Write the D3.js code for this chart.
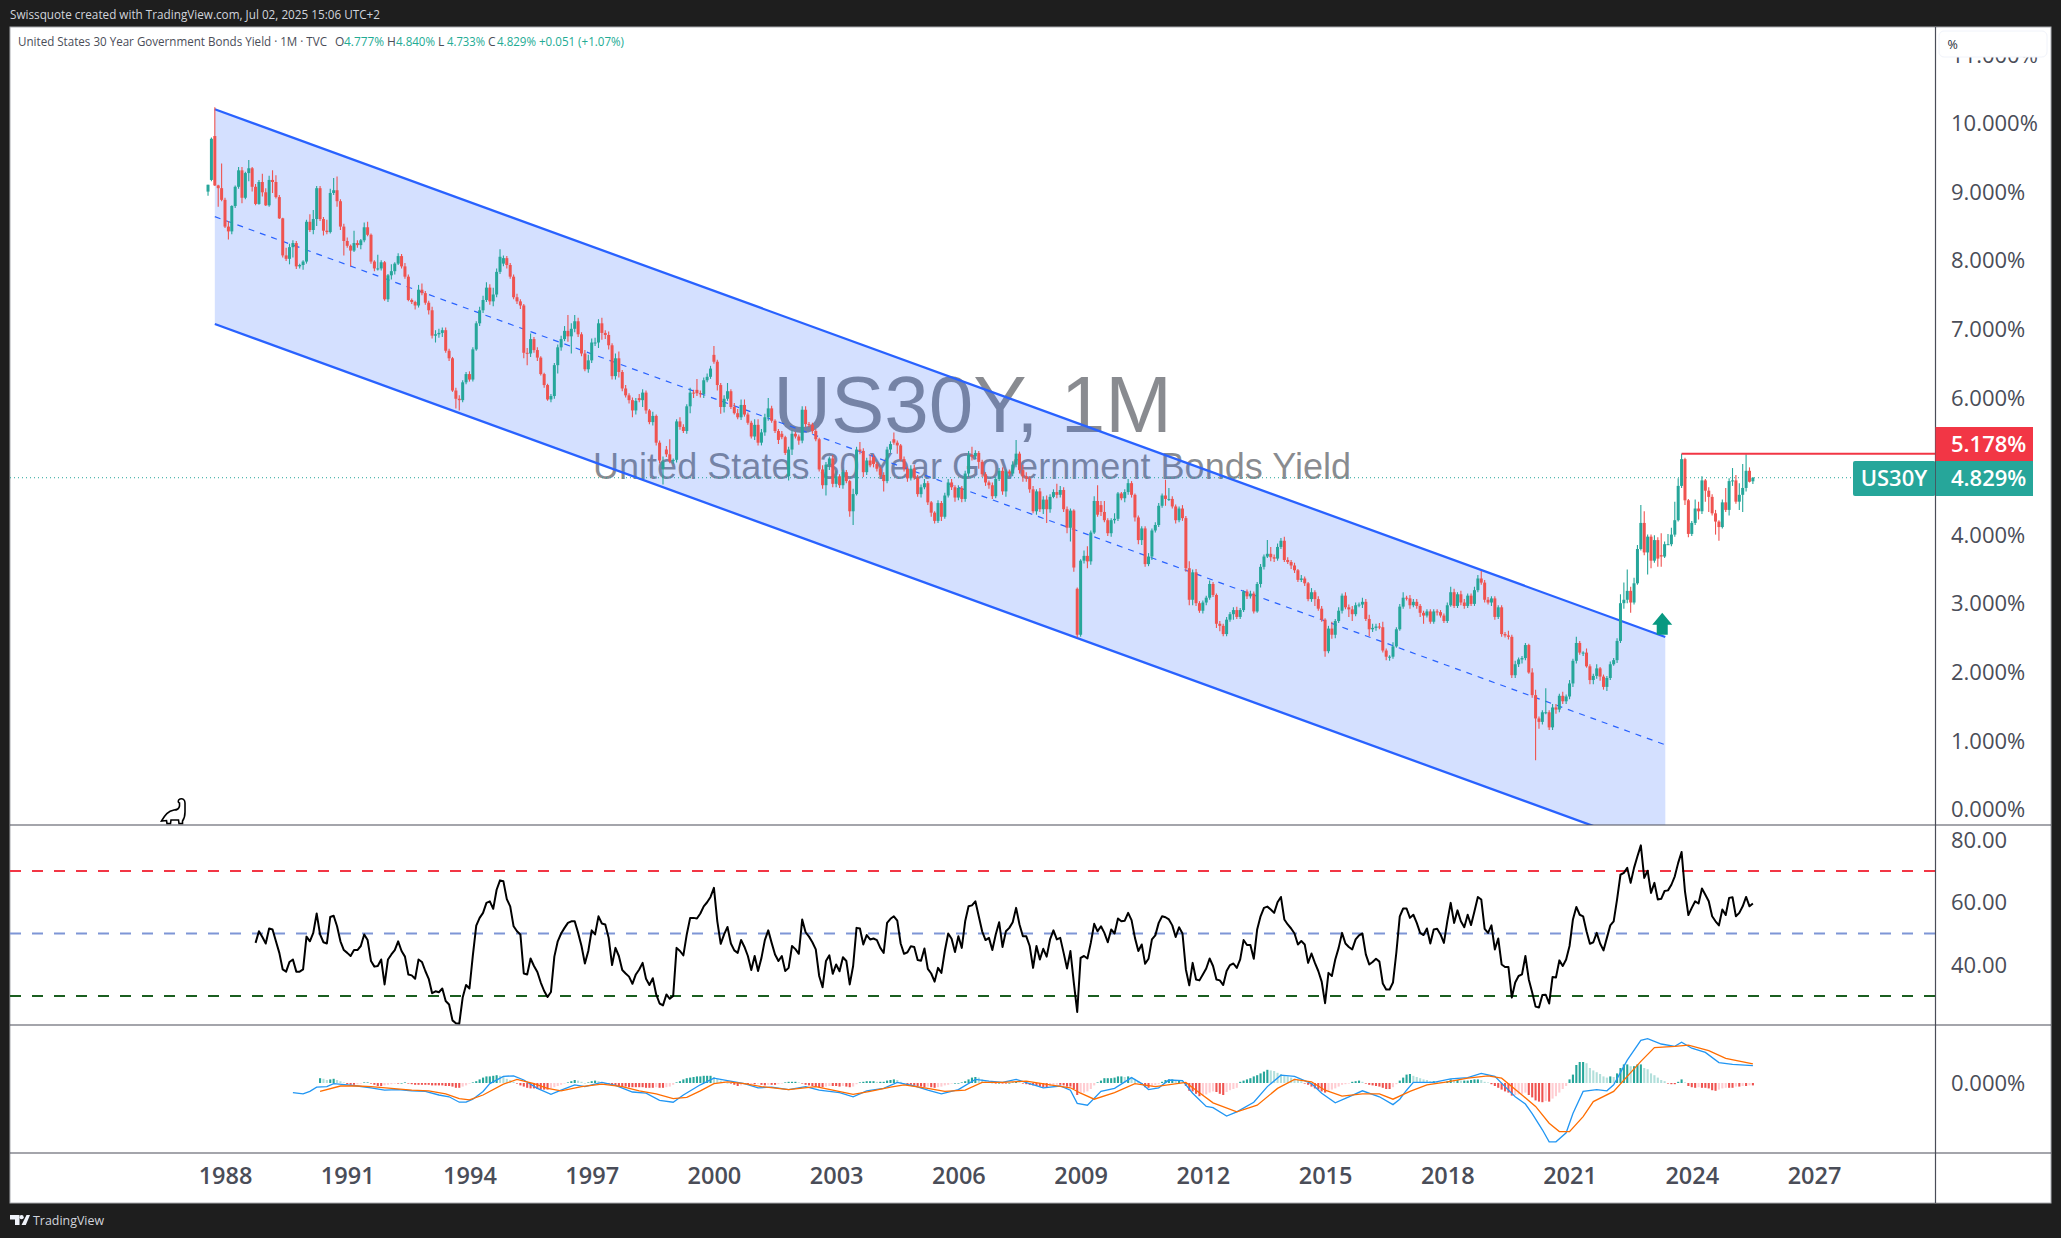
<!DOCTYPE html>
<html><head><meta charset="utf-8"><script src="https://cdn.jsdelivr.net/npm/d3@7"></script>
<style>html,body{margin:0;padding:0;background:#1e1e1e;overflow:hidden}svg{display:block}text{font-family:"Open Sans",sans-serif}</style></head>
<body><svg id="c" width="2061" height="1238"></svg>
<script>
// Month numbers count from January 1988 = 0.
const firstBarMonth = -5; // Aug 1987
const closes = [
9.10,9.77,9.09,9.05,8.88,
8.49,8.42,8.79,9.07,9.31,8.91,9.27,9.34,9.07,8.82,9.14,8.99,
8.80,9.17,9.14,8.92,8.61,8.07,8.02,8.19,8.25,7.91,7.93,7.98,
8.56,8.44,8.60,9.05,8.60,8.43,8.41,8.98,9.02,8.86,8.49,8.28,
8.21,8.14,8.25,8.22,8.29,8.48,8.37,7.98,7.88,7.88,7.97,7.43,
7.78,7.84,7.95,8.06,7.91,7.76,7.42,7.39,7.34,7.57,7.52,7.38,
7.27,6.90,6.92,6.94,6.98,6.68,6.57,6.10,5.98,5.96,6.22,6.34,
6.26,6.70,7.08,7.27,7.42,7.60,7.40,7.50,7.83,8.05,8.03,7.93,
7.76,7.46,7.40,7.34,6.65,6.64,6.85,6.69,6.58,6.34,6.18,5.97,
6.02,6.47,6.73,6.85,6.97,6.89,7.00,7.11,6.92,6.64,6.41,6.54,
6.80,6.80,7.08,6.94,6.91,6.76,6.31,6.57,6.37,6.13,6.03,5.96,
5.81,5.95,5.96,6.07,5.81,5.64,5.73,5.34,5.08,5.06,5.17,5.07,
5.09,5.65,5.57,5.51,5.87,6.07,6.06,6.06,6.05,6.25,6.30,6.42,
6.52,6.18,5.86,5.98,6.09,5.86,5.77,5.71,5.89,5.75,5.63,5.43,
5.60,5.34,5.49,5.71,5.84,5.66,5.51,5.38,5.42,5.19,5.24,5.47,
5.43,5.37,5.82,5.61,5.60,5.51,5.39,4.95,4.72,5.02,5.11,4.74,
4.85,4.72,4.91,4.78,4.34,4.59,5.24,5.22,4.91,5.08,5.01,5.03,
4.96,4.87,4.78,5.24,5.32,5.34,5.30,5.10,4.96,4.82,4.96,4.83,
4.59,4.69,4.75,4.47,4.32,4.20,4.46,4.26,4.57,4.76,4.69,4.54,
4.68,4.52,4.89,5.16,5.14,5.19,5.06,4.88,4.76,4.72,4.56,4.81,
4.93,4.63,4.92,4.89,5.02,5.18,4.94,4.85,4.82,4.66,4.34,4.63,
4.37,4.51,4.37,4.55,4.62,4.58,4.65,4.37,4.10,4.35,3.52,2.54,
3.62,3.69,3.61,4.03,4.49,4.29,4.33,4.21,4.02,4.21,4.23,4.60,
4.53,4.62,4.75,4.58,4.25,3.92,4.09,3.57,3.68,4.06,4.14,4.42,
4.57,4.52,4.52,4.41,4.21,4.38,4.24,3.51,3.05,3.45,3.00,2.89,
3.01,3.08,3.28,3.12,2.70,2.67,2.55,2.76,2.84,2.90,2.80,2.90,
3.17,3.10,3.14,2.88,3.28,3.53,3.68,3.72,3.67,3.65,3.82,3.91,
3.63,3.60,3.55,3.48,3.34,3.36,3.29,3.06,3.16,3.06,2.92,2.76,
2.30,2.63,2.54,2.74,2.89,3.11,2.94,2.91,2.84,2.97,2.98,3.02,
2.77,2.62,2.64,2.66,2.65,2.31,2.22,2.22,2.37,2.62,2.95,3.08,
3.07,2.97,3.02,2.96,2.86,2.82,2.88,2.73,2.88,2.87,2.82,2.74,
2.97,3.16,2.96,3.13,3.01,2.96,3.11,2.99,3.19,3.36,3.30,3.05,
3.01,3.07,2.80,2.94,2.55,2.53,2.51,1.95,2.11,2.18,2.20,2.39,
1.99,1.66,1.32,1.27,1.41,1.41,1.19,1.48,1.45,1.65,1.57,1.64,
1.83,2.16,2.42,2.28,2.28,2.08,1.88,1.94,2.05,1.93,1.78,1.91,
2.11,2.17,2.45,3.00,3.05,3.18,3.01,3.29,3.79,4.17,3.74,3.97,
3.62,3.92,3.65,3.68,3.86,3.86,4.00,4.21,4.71,5.10,4.50,4.01,
4.17,4.38,4.34,4.79,4.64,4.55,4.31,4.19,4.11,4.47,4.36,4.78,
4.79,4.48,4.58,4.68,4.93,4.77,4.829];
// Opens that visibly differ from the previous close
const gapOpenMonths = [-5,-3,-4,82,122,129,130,139,144,164,166,191,197,251,258,423,450];
const gapOpenValues = [9.0,9.81,9.17,7.95,5.99,4.96,5.24,6.11,6.62,5.47,4.85,5.13,5.39,3.21,4.43,3.70,4.777];
// Upper wick above the body, hundredths of a point
const upperWicks = [
0,2,42,1,36,
3,8,1,2,5,5,2,12,2,4,3,12,
6,6,14,10,3,1,11,5,4,3,2,2,
3,11,13,3,3,3,16,6,18,20,3,4,
5,2,18,4,2,7,8,2,2,20,3,2,
2,10,2,4,3,5,3,2,2,7,9,3,
3,5,6,6,4,4,3,2,4,5,3,3,
4,3,3,5,6,8,5,10,5,11,4,3,
3,3,5,3,2,7,8,3,4,2,2,2,
3,3,4,5,7,23,8,9,5,3,5,8,
6,7,6,8,4,5,3,7,10,3,5,3,
4,4,6,5,3,2,6,2,3,8,5,22,
2,3,6,4,3,7,4,16,4,4,5,4,
13,3,3,5,12,3,6,6,8,8,3,3,
8,8,5,5,15,4,2,3,4,2,4,5,
3,3,5,5,3,3,3,2,6,4,3,5,
8,3,4,3,2,8,4,11,4,4,8,4,
3,3,4,4,4,10,3,2,4,3,5,6,
4,4,6,3,2,2,4,3,4,5,5,3,
4,3,4,6,12,4,3,3,3,3,4,3,
4,5,3,3,5,20,3,8,6,3,5,3,
5,5,6,4,4,12,6,4,4,3,2,2,
2,8,14,3,7,23,6,16,3,3,8,2,
2,4,6,3,2,3,3,3,5,3,4,4,
3,23,16,4,3,3,5,3,10,4,5,3,
3,3,5,3,2,4,3,4,3,4,5,3,
2,3,4,3,3,4,3,20,10,4,5,4,
6,4,3,4,2,5,3,2,6,3,4,4,
2,4,10,3,5,3,5,4,5,4,3,6,
4,6,6,4,5,8,3,2,6,3,4,8,
3,5,4,4,3,3,3,3,3,3,3,3,
4,8,5,3,5,5,3,3,5,5,11,4,
4,3,3,3,3,3,7,3,5,3,3,3,
2,6,8,3,3,35,3,5,5,3,6,3,
5,3,9,3,2,6,3,3,6,2,3,3,
4,3,4,13,25,31,6,8,6,26,17,3,
3,7,4,32,4,15,10,27,11,8,2,2,
3,13,10,6,2,5,4,5,2,4,21,4,
18,8,17,35,24,5,1];
// Lower wick below the body, hundredths of a point
const lowerWicks = [
6,2,1,27,2,
2,12,4,3,3,8,2,12,7,2,1,6,
1,2,16,2,1,3,3,8,15,4,3,7,
3,3,6,10,3,7,3,2,3,8,5,21,
3,23,2,4,6,3,2,3,4,3,3,2,
4,6,5,2,3,3,2,3,6,3,3,3,
6,4,10,5,6,3,4,2,14,15,3,3,
3,3,2,4,4,3,5,7,4,3,4,5,
3,3,4,5,8,17,5,4,5,2,4,2,
4,4,12,5,3,8,25,5,4,4,3,5,
4,5,8,10,6,6,5,5,8,4,3,5,
10,6,3,10,5,3,5,4,4,23,4,3,
4,4,4,3,4,10,7,4,5,6,3,3,
3,8,10,8,3,3,2,3,4,3,3,3,
5,4,4,5,5,3,3,6,3,3,6,8,
3,6,4,4,3,4,3,3,5,15,8,5,
5,4,5,3,8,20,2,5,7,4,3,5,
4,3,15,3,5,3,12,3,4,5,3,3,
4,5,3,4,6,4,3,6,3,3,4,6,
4,5,4,5,6,4,10,4,5,5,4,3,
3,5,8,4,4,4,5,8,5,5,3,5,
4,7,20,5,2,5,4,4,8,20,6,4,
3,4,10,5,2,3,6,3,4,5,5,3,
3,6,4,4,6,6,7,4,3,5,3,3,
3,10,3,3,5,3,4,5,8,8,4,3,
4,4,3,3,6,8,3,3,3,8,3,3,
3,4,3,3,2,5,4,2,6,5,3,3,
3,3,5,4,3,3,4,3,4,10,3,3,
8,3,6,5,3,4,3,11,10,3,3,5,
3,10,4,4,3,3,5,6,3,2,2,3,
3,5,3,4,6,12,3,3,3,5,3,3,
3,2,3,3,4,4,3,3,3,3,3,4,
3,5,4,3,4,3,4,4,4,4,6,3,
2,4,61,10,4,3,4,4,6,4,4,4,
4,5,4,3,5,2,6,6,4,6,4,6,
3,2,4,3,8,5,15,3,2,2,4,32,
11,3,12,15,2,1,3,3,2,3,7,5,
3,3,12,4,16,22,3,19,20,2,3,8,
7,3,12,25,5,1,4];
const rsiFirstMonth = 9; // Oct 1988
const rsiValues = [
47,50.7,48.9,
46.8,51.6,51.3,47.5,43.8,38.5,37.8,40.9,41.7,37.8,37.8,38.5,
49,47.5,50.2,56.4,49.7,47.2,46.8,55.3,55.7,52.3,47.5,44.7,
43.8,42.8,44.7,44.7,46,49.7,47.9,41.2,39.4,39.6,41.7,33.7,
41.7,43.3,44.7,47.5,44.4,42.6,36.9,36.6,35.5,41.7,40.9,38,
35.5,30.9,31.5,31.2,32.4,28.4,27.3,22.2,21.3,21.2,29.5,33.5,
32.4,43,52.5,55,56.6,59.8,60.3,57.9,64,67,66.7,61,
58.7,52.3,50.7,49.7,37.2,36.9,42,39.6,37.7,34.3,31.6,29.7,
31.3,42.6,47.5,50,51.8,53.4,53.9,53.9,50.2,46,40.4,44.4,
51,49.7,55.5,53.2,52.9,48.6,39.9,45.4,42.8,38.3,37.2,36.2,
33.9,36.9,38.5,40.6,35.5,33.5,35.7,30.5,27.6,27,30.5,29.1,
30,45.4,44.4,43,49.7,55,55,54.8,56.4,58.7,60,61.7,
64.6,53.9,46.7,49.7,52.1,46.8,44.6,43.8,47.9,45.7,42.8,38.3,
42.8,38,42.2,47.9,51,47,43.3,41.2,42.8,38,39,46,
45,43.5,54.5,50.4,49,47.2,44.9,36.4,32.8,41.2,43,37.1,
40.1,37.9,42.4,41.2,33.7,39.6,51.8,51.6,46.5,49.5,48.1,48.4,
47.9,45.4,43.8,53.4,54.7,55.5,54.1,46.8,43.5,44,45.9,45.7,
41.5,41.3,45.2,38.7,37.2,34.6,39,37.4,44.4,50,48.3,44.1,
49.1,45.4,53.9,58.7,59,60.3,55.5,50.7,47.9,48.6,44.7,49.7,
53.6,45.7,50.7,51.8,53.6,58.2,52.9,49.1,49.1,46,39,46,
41.7,45.1,42.6,48.1,51,48.1,48.6,43.8,38.8,44.4,34.3,24.9,
42.2,42.8,42,47,53.1,50.7,52.3,50.2,47.2,51.3,50,54.8,
53.9,54.1,56.6,54.3,48.6,44.4,46.5,40.3,41.9,48.1,49.4,53.4,
55.5,55.2,54.5,52.6,48.9,52,50,38.5,33.4,40.6,35.3,35,
36.9,38.8,42,39.6,35.3,35,33.5,38,39.9,40.4,39,41.7,
47.9,46.3,46.3,41.9,51.3,55.5,58.2,58.6,57.7,56.6,60,61.7,
54.5,52.9,51.6,50,46.5,47.6,46.5,40.6,43.6,40.6,38,34.6,
27.7,37.4,36.4,41.7,45.4,50.2,46.8,45.7,44.9,48.1,49.4,50,
43.3,40.1,40.9,41.9,41,34,32.1,32.1,34.3,44,55.5,58,
58,55,56,53.4,50.2,49.5,51.6,46.8,51.3,51.5,49.7,47,
53.9,59.8,53.4,57.4,53.9,52,56,52.7,57.1,61.7,60.9,51.5,
50.2,52.6,44.9,48.4,40.1,39.3,39.3,29.5,34.3,36.4,36.9,42.8,
35.3,31.1,26.6,26.3,30.3,30.4,27.6,36.1,35.9,41.4,39.6,41.7,
46,54.5,58.5,56,55.5,50.7,46.7,47.2,50.2,46.8,44.6,48.6,
52.6,53.9,60.9,68.8,69.4,71,66.2,71,74.7,78.2,67.8,70.1,
63,66.2,60.9,61.1,63.6,63.8,65.6,68.3,72.6,76.1,63.5,55.9,
58.2,60.3,59.6,64.4,62.4,60.3,55.5,53.9,52.6,57.7,55.9,61.4,
61.6,55.5,56.6,58.7,61.7,58.7,59.6];
// MACD line turning points: month, then value in hundredths of a point
const macdMonths = [20,23,25,27,30,32,36,39,43,47,51,55,59,63,66,69,71,73,76,78,82,85,88,92,96,99,103,106,111,115,120,124,128,132,135,140,144,148,153,157,161,166,171,175,181,185,189,194,198,203,207,211,216,221,225,229,233,237,241,246,249,251,254,258,262,267,270,272,275,278,282,285,289,291,295,298,303,307,311,315,320,323,327,331,335,340,344,346,348,350,356,361,366,370,374,377,380,383,385,388,390,392,395,397,400,404,407,409,413,417,419,423,427,429,432,436,440,444,450];
const macdValues = [-16,-18,-14,-7,-6,-1,-3,-5,-8,-12,-11,-13,-14,-20,-23,-32,-32,-27,-14,-1,11,12,5,-9,-19,-12,-3,-6,1,-4,-15,-17,-29,-32,-20,-3,8,4,-1,-8,-7,-11,-6,-12,-16,-23,-13,-9,1,-5,-12,-18,-11,6,3,1,6,-1,-8,-5,-12,-34,-37,-14,-9,9,-1,-11,-8,5,4,-17,-39,-41,-55,-48,-32,-6,13,11,-1,-17,-33,-23,-13,-23,-36,-27,-12,1,1,7,9,16,11,-6,-23,-35,-51,-78,-98,-98,-83,-51,-14,-11,-13,-3,38,71,74,65,61,68,58,51,34,31,29];
// Signal line turning points
const signalMonths = [28,34,39,43,49,55,60,65,69,72,76,82,86,91,95,99,105,111,117,122,127,132,136,140,144,148,153,158,166,174,179,185,190,196,200,207,212,218,223,229,236,243,249,252,256,262,268,274,283,286,291,298,304,310,315,320,324,329,335,340,344,349,354,360,366,372,376,382,386,390,393,396,400,403,409,413,417,421,427,431,437,442,450];
const signalValues = [-14,-5,-5,-6,-9,-12,-13,-18,-26,-28,-20,-2,6,-1,-9,-13,-6,-2,-6,-13,-18,-26,-24,-13,-1,2,-1,-6,-11,-6,-12,-19,-14,-7,-3,-9,-14,-12,1,1,3,-3,-8,-17,-27,-16,-1,-6,1,-12,-33,-48,-37,-9,6,2,-12,-22,-18,-18,-27,-14,-3,2,8,12,8,-20,-39,-67,-81,-81,-56,-31,-14,11,36,59,61,63,54,41,32];
const histFirstMonth = 28; // May 1990
const histValues = [
8,7,5,6,7,5,3,1,
-2,-3,-3,-2,-1,1,1,-1,-3,-5,-5,-4,
-3,-2,-1,-1,0,1,-1,-2,-3,-3,-3,-3,
-3,-4,-4,-4,-4,-5,-5,-6,-8,-8,-6,-4,
-1,1,3,6,9,11,11,12,13,12,10,7,
5,2,-1,-4,-6,-8,-9,-9,-10,-11,-11,-11,
-9,-7,-5,-3,-1,1,3,5,4,2,0,1,
3,4,3,1,-1,-2,-4,-5,-6,-6,-6,-7,
-7,-7,-7,-7,-8,-8,-8,-7,-8,-8,-7,-6,
-3,1,3,6,8,9,10,11,11,12,12,12,
10,7,4,2,0,-1,-3,-5,-4,-3,-3,-2,
-2,-1,-3,-4,-3,-3,-3,-2,-1,1,2,2,
2,1,-1,-3,-4,-5,-6,-7,-7,-6,-5,-5,
-5,-6,-5,-6,-7,-6,-2,1,2,3,3,3,
2,2,2,4,5,6,5,2,0,-2,-3,-4,
-5,-6,-7,-6,-7,-8,-7,-6,-4,-3,-1,0,
0,1,3,6,9,10,9,6,3,2,0,-1,
0,-1,-1,0,1,2,1,-1,-2,-3,-4,-5,
-6,-7,-7,-5,-4,-3,-3,-4,-6,-6,-10,-20,
-18,-16,-14,-10,-4,1,4,8,8,8,9,11,
11,10,11,10,7,3,-2,-7,-8,-6,-4,-2,
2,5,6,6,5,5,3,-5,-13,-14,-18,-22,
-20,-19,-16,-14,-15,-18,-20,-15,-12,-10,-8,2,
4,6,8,11,13,16,19,22,21,20,17,15,
13,11,9,7,5,3,-1,-3,-6,-9,-11,-14,
-16,-13,-11,-9,-6,-3,-2,-1,2,3,4,2,
-1,-3,-4,-5,-6,-8,-10,-10,-7,-2,4,9,
14,15,12,10,8,6,5,3,3,2,1,1,
3,6,5,5,4,4,4,5,6,6,5,2,
1,-2,-5,-8,-11,-14,-16,-21,-20,-19,-18,-16,
-20,-24,-29,-31,-32,-30,-31,-26,-22,-16,-10,-5,
6,14,30,35,35,33,25,21,18,15,11,9,
11,10,16,25,31,31,28,28,31,31,25,23,
16,13,9,5,3,-1,-2,-2,2,6,1,-5,
-7,-8,-7,-8,-8,-9,-12,-13,-11,-9,-8,-8,
-8,-6,-6,-5,-5,-4,-4];
// Trend channel anchors
const channelMonths = [-3,424.2];
const channelUpper = [10.2,2.507];
const channelMiddle = [8.635,0.935];
const channelLower = [7.07,-0.63];
const lastPrice = 4.829, resistance = 5.178, resistanceFrom = 429;
const arrowMonth = 423.3, arrowBase = 2.54, arrowTip = 2.86;
const yearTicks = [1988,1991,1994,1997,2000,2003,2006,2009,2012,2015,2018,2021,2024,2027];
const priceTicks = [0,1,2,3,4,6,7,8,9,10,11];
const rsiTicks = [40,60,80];
const rsiLevels = [{v:70,c:"#f23645"},{v:50,c:"#7e96d6"},{v:30,c:"#1b5e20"}];

const L=10,R=2051,AX=1935.5,TOP=27,P1=825,P2=1025,P3=1153,BOT=1203;
const x=d3.scaleLinear().domain([0,468]).range([225,1814]);
const y=d3.scaleLinear().domain([0,10]).range([809,123]);
const yR=d3.scaleLinear().domain([30,70]).range([996,871]);
const yM=d3.scaleLinear().domain([0,100]).range([1083,1023]);
const svg=d3.select("#c");
const ink="#4a4d58";
svg.append("rect").attr("width",2061).attr("height",1238).attr("fill","#1e1e1e");
svg.append("rect").attr("x",L).attr("y",TOP).attr("width",R-L).attr("height",BOT-TOP).attr("fill","#fff").attr("stroke","#a9abb0").attr("stroke-width",1);
const defs=svg.append("defs");
[["cMain",TOP,P1],["cRsi",P1,P2],["cMacd",P2,P3]].forEach(([id,a,b])=>defs.append("clipPath").attr("id",id).append("rect").attr("x",L).attr("y",a).attr("width",AX-L).attr("height",b-a));

// watermark under the channel
const gWM=svg.append("g").attr("fill","#131722").attr("fill-opacity",0.5).attr("text-anchor","middle");
gWM.append("text").attr("x",972.5).attr("y",432).attr("font-size",80).style("font-family","'Liberation Sans',Arial,sans-serif").text("US30Y, 1M");
gWM.append("text").attr("x",972).attr("y",479).attr("font-size",36.1).style("font-family","'Liberation Sans',Arial,sans-serif").text("United States 30 Year Government Bonds Yield");

// channel
const main=svg.append("g").attr("clip-path","url(#cMain)");
const chanPts=a=>channelMonths.map((m,i)=>[x(m),y(a[i])]);
main.append("path").attr("d",d3.line()(chanPts(channelUpper).concat(chanPts(channelLower).reverse()))+"Z").attr("fill","#2962ff").attr("fill-opacity",0.2);
main.append("path").attr("d",d3.line()(chanPts(channelUpper))).attr("stroke","#2962ff").attr("stroke-width",2.3).attr("fill","none");
main.append("path").attr("d",d3.line()(chanPts(channelLower))).attr("stroke","#2962ff").attr("stroke-width",2.3).attr("fill","none");
main.append("path").attr("d",d3.line()(chanPts(channelMiddle))).attr("stroke","#2962ff").attr("stroke-width",1.2).attr("stroke-dasharray","6 6").attr("fill","none");

// last price dotted line
main.append("line").attr("x1",L).attr("x2",1853).attr("y1",y(lastPrice)).attr("y2",y(lastPrice)).attr("stroke","#26a69a").attr("stroke-width",1).attr("stroke-dasharray","1 3");

// candles
const bars=closes.map((c,i)=>{
  const m=firstBarMonth+i, g=gapOpenMonths.indexOf(m);
  const o=g>=0?gapOpenValues[g]:closes[i-1];
  return {m,o,c,h:Math.max(o,c)+upperWicks[i]/100,l:Math.min(o,c)-lowerWicks[i]/100};
});
const col=d=>d.c>=d.o?"#26a69a":"#ef5350";
main.selectAll(".w").data(bars).join("line").attr("x1",d=>x(d.m)).attr("x2",d=>x(d.m)).attr("y1",d=>y(d.h)).attr("y2",d=>y(d.l)).attr("stroke",col).attr("stroke-width",1.1);
main.selectAll(".b").data(bars).join("rect").attr("x",d=>x(d.m)-1.5).attr("width",3).attr("y",d=>y(Math.max(d.o,d.c))).attr("height",d=>Math.max(1,Math.abs(y(d.o)-y(d.c)))).attr("fill",col);

// resistance line and arrow
main.append("line").attr("x1",x(resistanceFrom)).attr("x2",AX).attr("y1",y(resistance)).attr("y2",y(resistance)).attr("stroke","#f23645").attr("stroke-width",2);
{const ax=x(arrowMonth),b=y(arrowBase),t=y(arrowTip);
 main.append("path").attr("d",`M${ax-5.5},${b}V${t+12}H${ax-10}L${ax},${t}L${ax+10},${t+12}H${ax+5.5}V${b}Z`).attr("fill","#089981");}

// RSI pane
const rsi=svg.append("g").attr("clip-path","url(#cRsi)");
rsiLevels.forEach(l=>rsi.append("line").attr("x1",L).attr("x2",AX).attr("y1",yR(l.v)).attr("y2",yR(l.v)).attr("stroke",l.c).attr("stroke-width",2).attr("stroke-dasharray","11 11"));
rsi.append("path").datum(rsiValues).attr("d",d3.line().x((d,i)=>x(rsiFirstMonth+i)).y(d=>yR(d))).attr("fill","none").attr("stroke","#000").attr("stroke-width",2).attr("stroke-linejoin","round");

// MACD pane
const mc=svg.append("g").attr("clip-path","url(#cMacd)");
mc.selectAll(".h").data(histValues).join("rect").attr("x",(d,i)=>x(histFirstMonth+i)-1.05).attr("width",2.1)
 .attr("y",d=>Math.min(yM(d),yM(0))).attr("height",d=>Math.max(0.6,Math.abs(yM(d)-yM(0))))
 .attr("fill",(d,i)=>{const p=i?histValues[i-1]:d; return d>=0?(d>=p?"#26a69a":"#b2dfdb"):(d<=p?"#ef5350":"#ffcdd2");});
const lineM=d3.line().x(d=>x(d[0])).y(d=>yM(d[1]));
mc.append("path").attr("d",lineM(d3.zip(macdMonths,macdValues))).attr("fill","none").attr("stroke","#2196f3").attr("stroke-width",1.3);
mc.append("path").attr("d",lineM(d3.zip(signalMonths,signalValues))).attr("fill","none").attr("stroke","#ff6d00").attr("stroke-width",1.3);

// pane separators and axis line
[P1,P2,P3].forEach(p=>svg.append("line").attr("x1",L).attr("x2",R).attr("y1",p).attr("y2",p).attr("stroke",ink).attr("stroke-width",1.2));
svg.append("line").attr("x1",AX).attr("x2",AX).attr("y1",TOP).attr("y2",BOT).attr("stroke",ink).attr("stroke-width",1.2);

// axes
function axisText(g,size,weight){g.select(".domain").remove();g.selectAll(".tick line").remove();
  g.selectAll("text").attr("fill",ink).attr("font-size",size).attr("font-weight",weight).attr("x",null);}
const gy=svg.append("g").attr("transform",`translate(${AX},0)`).call(d3.axisRight(y).tickValues(priceTicks).tickFormat(d=>d3.format(".3f")(d)+"%"));
axisText(gy,22,400);gy.selectAll("text").attr("x",15.5).attr("dy","0.35em");
const gr=svg.append("g").attr("transform",`translate(${AX},0)`).call(d3.axisRight(yR).tickValues(rsiTicks).tickFormat(d3.format(".2f")));
axisText(gr,22,400);gr.selectAll("text").attr("x",15.5).attr("dy","0.35em");
const gm=svg.append("g").attr("transform",`translate(${AX},0)`).call(d3.axisRight(yM).tickValues([0]).tickFormat(d=>"0.000%"));
axisText(gm,22,400);gm.selectAll("text").attr("x",15.5).attr("dy","0.35em");
const gx=svg.append("g").attr("transform",`translate(0,${P3})`).call(d3.axisBottom(x).tickValues(yearTicks.map(t=>(t-1988)*12)).tickFormat(d=>String(1988+d/12)));
axisText(gx,23.5,600);gx.selectAll("text").attr("y",23).attr("dy","0.35em");

// scale-mode chip
svg.append("rect").attr("x",1939).attr("y",31).attr("width",108).attr("height",26).attr("rx",5).attr("fill","#fff").attr("stroke","#f0f3fa").attr("stroke-width",1);
svg.append("text").attr("x",1947.5).attr("y",48.5).attr("font-size",12.5).attr("fill","#2a2e39").text("%");

// price labels
svg.append("rect").attr("x",AX).attr("y",427).attr("width",97.5).attr("height",34).attr("fill","#f23645");
svg.append("rect").attr("x",1853).attr("y",461).attr("width",82.5).attr("height",35).attr("rx",2).attr("fill","#26a69a");
svg.append("rect").attr("x",AX).attr("y",461).attr("width",97.5).attr("height",35).attr("fill","#26a69a");
svg.append("line").attr("x1",AX).attr("x2",AX).attr("y1",461).attr("y2",496).attr("stroke",ink).attr("stroke-width",0.8);
const lab=(t,xx,yy,anchor)=>svg.append("text").attr("x",xx).attr("y",yy).attr("dy","0.35em").attr("text-anchor",anchor||"start").attr("font-size",22).attr("font-weight",600).attr("fill","#fff").text(t);
lab(d3.format(".3f")(resistance)+"%",1951,444);
lab(d3.format(".3f")(lastPrice)+"%",1951,478.5);
lab("US30Y",1894,478.5,"middle");

// header, legend, footer
svg.append("text").attr("x",10).attr("y",19).attr("font-size",12).attr("fill","#d1d4dc").attr("textLength",370).attr("lengthAdjust","spacingAndGlyphs").text("Swissquote created with TradingView.com, Jul 02, 2025 15:06 UTC+2");
svg.append("text").attr("x",18).attr("y",46).attr("font-size",12).attr("fill","#4a4d58").attr("textLength",309).attr("lengthAdjust","spacingAndGlyphs").text("United States 30 Year Government Bonds Yield · 1M · TVC");
const leg=[["O","4.777%",335,51],["H","4.840%",387,50],["L","4.733%",438,49],["C","4.829%",488,50]];
leg.forEach(([k,v,xx,w])=>{svg.append("text").attr("x",xx).attr("y",46).attr("font-size",12).attr("fill","#4a4d58").text(k);
 svg.append("text").attr("x",xx+9).attr("y",46).attr("font-size",12).attr("fill","#22ab94").attr("textLength",w-11).attr("lengthAdjust","spacingAndGlyphs").text(v);});
svg.append("text").attr("x",539).attr("y",46).attr("font-size",12).attr("fill","#22ab94").attr("textLength",85).attr("lengthAdjust","spacingAndGlyphs").text("+0.051 (+1.07%)");
// TradingView mark
svg.append("path").attr("d","M10 1215h9.5v10h-4.5v-5.5h-5z M26.5 1215h3.5l-4.2 10h-4.3z").attr("fill","#f0f3fa");
svg.append("circle").attr("cx",21.6).attr("cy",1217.2).attr("r",2.1).attr("fill","#f0f3fa");
svg.append("text").attr("x",33).attr("y",1225).attr("font-size",13.5).attr("fill","#d1d4dc").attr("textLength",71).attr("lengthAdjust","spacingAndGlyphs").text("TradingView");
// dinosaur
svg.append("path").attr("d","M161.5 821 C165 815 168 811 174 810 C177 810 179 809 179.5 806 L179.5 803 C178 802.5 177.5 800 180 799 C183 798 185 800 185 803 L185 812 C185 816 184 819 182.5 821 L182.5 823.5 L179 823.5 L178.5 820 L171 820 L170.5 823.5 L167 823.5 L166.5 820.5 Z").attr("fill","#fff").attr("stroke","#000").attr("stroke-width",1.6);
</script></body></html>
